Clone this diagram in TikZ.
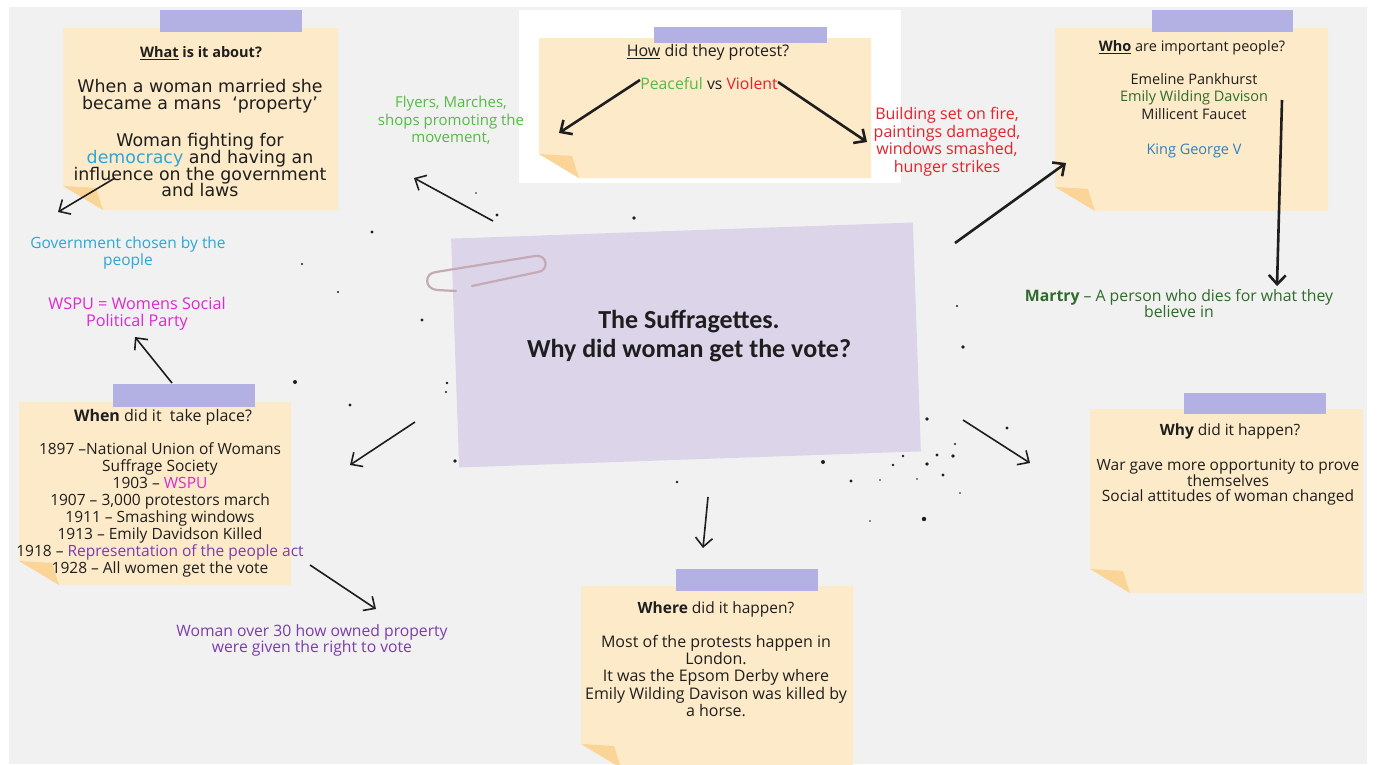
\documentclass[tikz,border=0pt]{standalone}
\usepackage{fontspec}
\setmainfont{Open Sans}
\newfontfamily\titlefont{Carlito}
\newfontfamily\widefont{DejaVu Sans}
\usetikzlibrary{arrows.meta}
\definecolor{bggrey}{HTML}{F1F1F1}
\definecolor{notec}{HTML}{FDEAC8}
\definecolor{foldc}{HTML}{FAD597}
\definecolor{tapec}{HTML}{B3B0E4}
\definecolor{cardc}{HTML}{DCD5EA}
\definecolor{clipc}{HTML}{C4AAB4}
\definecolor{inkc}{HTML}{1E1E1E}
\definecolor{cyanc}{HTML}{2EA6D6}
\definecolor{magc}{HTML}{DF28D2}
\definecolor{purc}{HTML}{7C3CAE}
\definecolor{lgreen}{HTML}{55BB45}
\definecolor{redc}{HTML}{E5222A}
\definecolor{dgreen}{HTML}{2F6B2A}
\definecolor{bluec}{HTML}{2E80C2}
\newcommand\stickynote[8]{%
  \fill[notec] (#1,#2) -- (#3,#2) -- (#3,#4) -- ({#1+40},#4) -- (#1,{#4-24}) -- cycle;
  \fill[foldc] (#1,{#4-24}) -- ({#1+33},{#4-22}) -- ({#1+40},#4) -- cycle;
  \fill[tapec] (#5,#7) rectangle (#6,#8);
}
\begin{document}
\begin{tikzpicture}[x=1pt,y=-1pt,
  hand/.style={font=\fontsize{15.5}{17}\selectfont, align=center, inner sep=0pt, anchor=north, text=inkc},
  arr/.style={draw=inkc, line width=1.6pt, -{Straight Barb[length=9pt,width=17pt]}},
  thickarr/.style={arr, line width=2.6pt}]
\useasboundingbox (0,0) rectangle (1378,764);
\fill[white] (0,0) rectangle (1378,764);
\fill[bggrey] (9,7) rectangle (1367,764);
% scattered dots
\foreach \px/\py/\r in {497/215/1.6, 634/218/1.8, 372/232/1.6, 302/264/1.1, 338/292/1.1, 422/320/1.6,
  295/382/2, 447/383/1.4, 446/392/1.1, 350/405/1.6, 455/461/1.8, 649/255/0.8, 476/193/0.9,
  957/306/1.1, 963/347/1.8, 927/419/1.8, 1007/428/1.6, 955/444/1.1, 937/455/1.6, 953/456/1.8,
  927/464/1.8, 943/475/1.6, 917/479/0.9, 960/493/0.8, 924/519/2.2, 880/480/0.9, 870/521/0.8,
  823/462/2, 851/481/1.6, 677/482/1.4, 893/465/1.4, 903/456/1.4}
  \fill[inkc] (\px,\py) circle (\r);
% notes
\stickynote{63}{28}{338}{210}{160}{302}{10}{32}
\fill[white] (519,10) rectangle (901,183);
\stickynote{539}{38}{871}{178}{654}{827}{27}{43}
\stickynote{1055}{28}{1328}{211}{1152}{1293}{10}{32}
\stickynote{19}{402}{291}{585}{113}{255}{384}{407}
\stickynote{581}{586}{853}{768}{676}{818}{569}{591}
\stickynote{1090}{409}{1363}{593}{1184}{1326}{393}{414}
% central card
\node[fill=cardc, minimum width=462pt, minimum height=229pt, inner sep=0pt, rotate=2] (card) at (686,345) {};
\draw[clipc, line width=2.2pt, line cap=round] (456,291) -- (437,290) .. controls (424,289) and (424,273) .. (436,272)
  -- (535,256) .. controls (548,254) and (549,271) .. (538,272) -- (472,286);
\node[font=\titlefont\bfseries\fontsize{26}{29}\selectfont, align=center, text=inkc, inner sep=0pt] (ttl) at (689,336)
  {The Suffragettes.\\Why did woman get the vote?};
% note 1
\node[hand, font=\fontsize{14.5}{17}\selectfont] (t1) at (201,46) {\textbf{\underline{What} is it about?}};
\node[hand, font=\widefont\fontsize{17.4}{16.9}\selectfont] (b1) at (200,79)
  {When a woman married she\\ became a mans \ ‘property’\\[20pt] Woman fighting for\\ \textcolor{cyanc}{democracy} and having an\\ influence on the government\\ and laws};
% note 2
\node[hand, font=\fontsize{16}{17}\selectfont] (t2) at (708,44) {\underline{How} did they protest?};
\node[hand, font=\fontsize{15.8}{17}\selectfont] (pv) at (709,77) {\textcolor{lgreen}{Peaceful} vs \textcolor{redc}{Violent}};
\node[hand, text=lgreen, font=\fontsize{15}{17.5}\selectfont] (fly) at (451,96) {Flyers, Marches,\\ shops promoting the\\ movement,};
\node[hand, text=redc, font=\fontsize{16}{17.7}\selectfont] (brk) at (947,107) {Building set on fire,\\ paintings damaged,\\ windows smashed,\\ hunger strikes};
% note 3
\node[hand, font=\fontsize{14.5}{17}\selectfont] (t3) at (1192,40) {\textbf{\underline{Who}} are important people?};
\node[hand, font=\fontsize{14.5}{17.5}\selectfont] (ppl) at (1194,73) {Emeline Pankhurst\\ \textcolor{dgreen}{Emily Wilding Davison}\\ Millicent Faucet\\[18pt] \textcolor{bluec}{King George V}};
\node[hand, text=dgreen, font=\fontsize{15.8}{16}\selectfont] (mar) at (1179,289) {\textbf{Martry} -- A person who dies for what they\\ believe in};
% left labels
\node[hand, text=cyanc] (gov) at (128,237) {Government chosen by the\\ people};
\node[hand, text=magc, font=\fontsize{16.2}{17}\selectfont] (wspu) at (137,297) {WSPU = Womens Social\\ Political Party};
% note 4
\node[hand, font=\fontsize{16}{17}\selectfont] (t4) at (163,409) {\textbf{When} did it \ take place?};
\node[hand] (when) at (160,442) {1897 --National Union of Womans\\ Suffrage Society\\ 1903 -- \textcolor{magc}{WSPU}\\ 1907 -- 3,000 protestors march\\ 1911 -- Smashing windows\\ 1913 -- Emily Davidson Killed\\ 1918 -- \textcolor{purc}{Representation of the people act}\\ 1928 -- All women get the vote};
\node[hand, text=purc, font=\fontsize{15.7}{16.5}\selectfont] (w30) at (312,624) {Woman over 30 how owned property\\ were given the right to vote};
% note 5
\node[hand] (t5) at (716,602) {\textbf{Where} did it happen?};
\node[hand, font=\fontsize{16}{17.2}\selectfont] (where) at (716,635) {Most of the protests happen in\\ London.\\ It was the Epsom Derby where\\ Emily Wilding Davison was killed by\\ a horse.};
% note 6
\node[hand] (t6) at (1230,424) {\textbf{Why} did it happen?};
\node[hand, font=\fontsize{15.5}{15.7}\selectfont] (why) at (1228,459) {War gave more opportunity to prove\\ themselves\\ Social attitudes of woman changed};
% arrow end points
\coordinate (a1s) at (115,178); \coordinate (a1e) at (58,212);
\coordinate (a2s) at (640,80);  \coordinate (a2e) at (559,133);
\coordinate (a3s) at (778,82);  \coordinate (a3e) at (867,142);
\coordinate (a4s) at (493,221); \coordinate (a4e) at (414,178);
\coordinate (a5s) at (955,243); \coordinate (a5e) at (1066,163);
\coordinate (a6s) at (1282,100); \coordinate (a6e) at (1277,286);
\coordinate (a7s) at (172,383); \coordinate (a7e) at (135,337);
\coordinate (a8s) at (415,422); \coordinate (a8e) at (350,465);
\coordinate (a9s) at (310,565); \coordinate (a9e) at (376,609);
\coordinate (a10s) at (708,497); \coordinate (a10e) at (703,548);
\coordinate (a11s) at (963,420); \coordinate (a11e) at (1030,463);
\draw[arr] (a1s) -- (a1e);
\draw[thickarr] (a2s) -- (a2e);
\draw[thickarr] (a3s) -- (a3e);
\draw[arr] (a4s) -- (a4e);
\draw[thickarr] (a5s) -- (a5e);
\draw[thickarr] (a6s) -- (a6e);
\draw[arr] (a7s) -- (a7e);
\draw[arr] (a8s) -- (a8e);
\draw[arr] (a9s) -- (a9e);
\draw[arr] (a10s) -- (a10e);
\draw[arr] (a11s) -- (a11e);
\end{tikzpicture}
\end{document}
